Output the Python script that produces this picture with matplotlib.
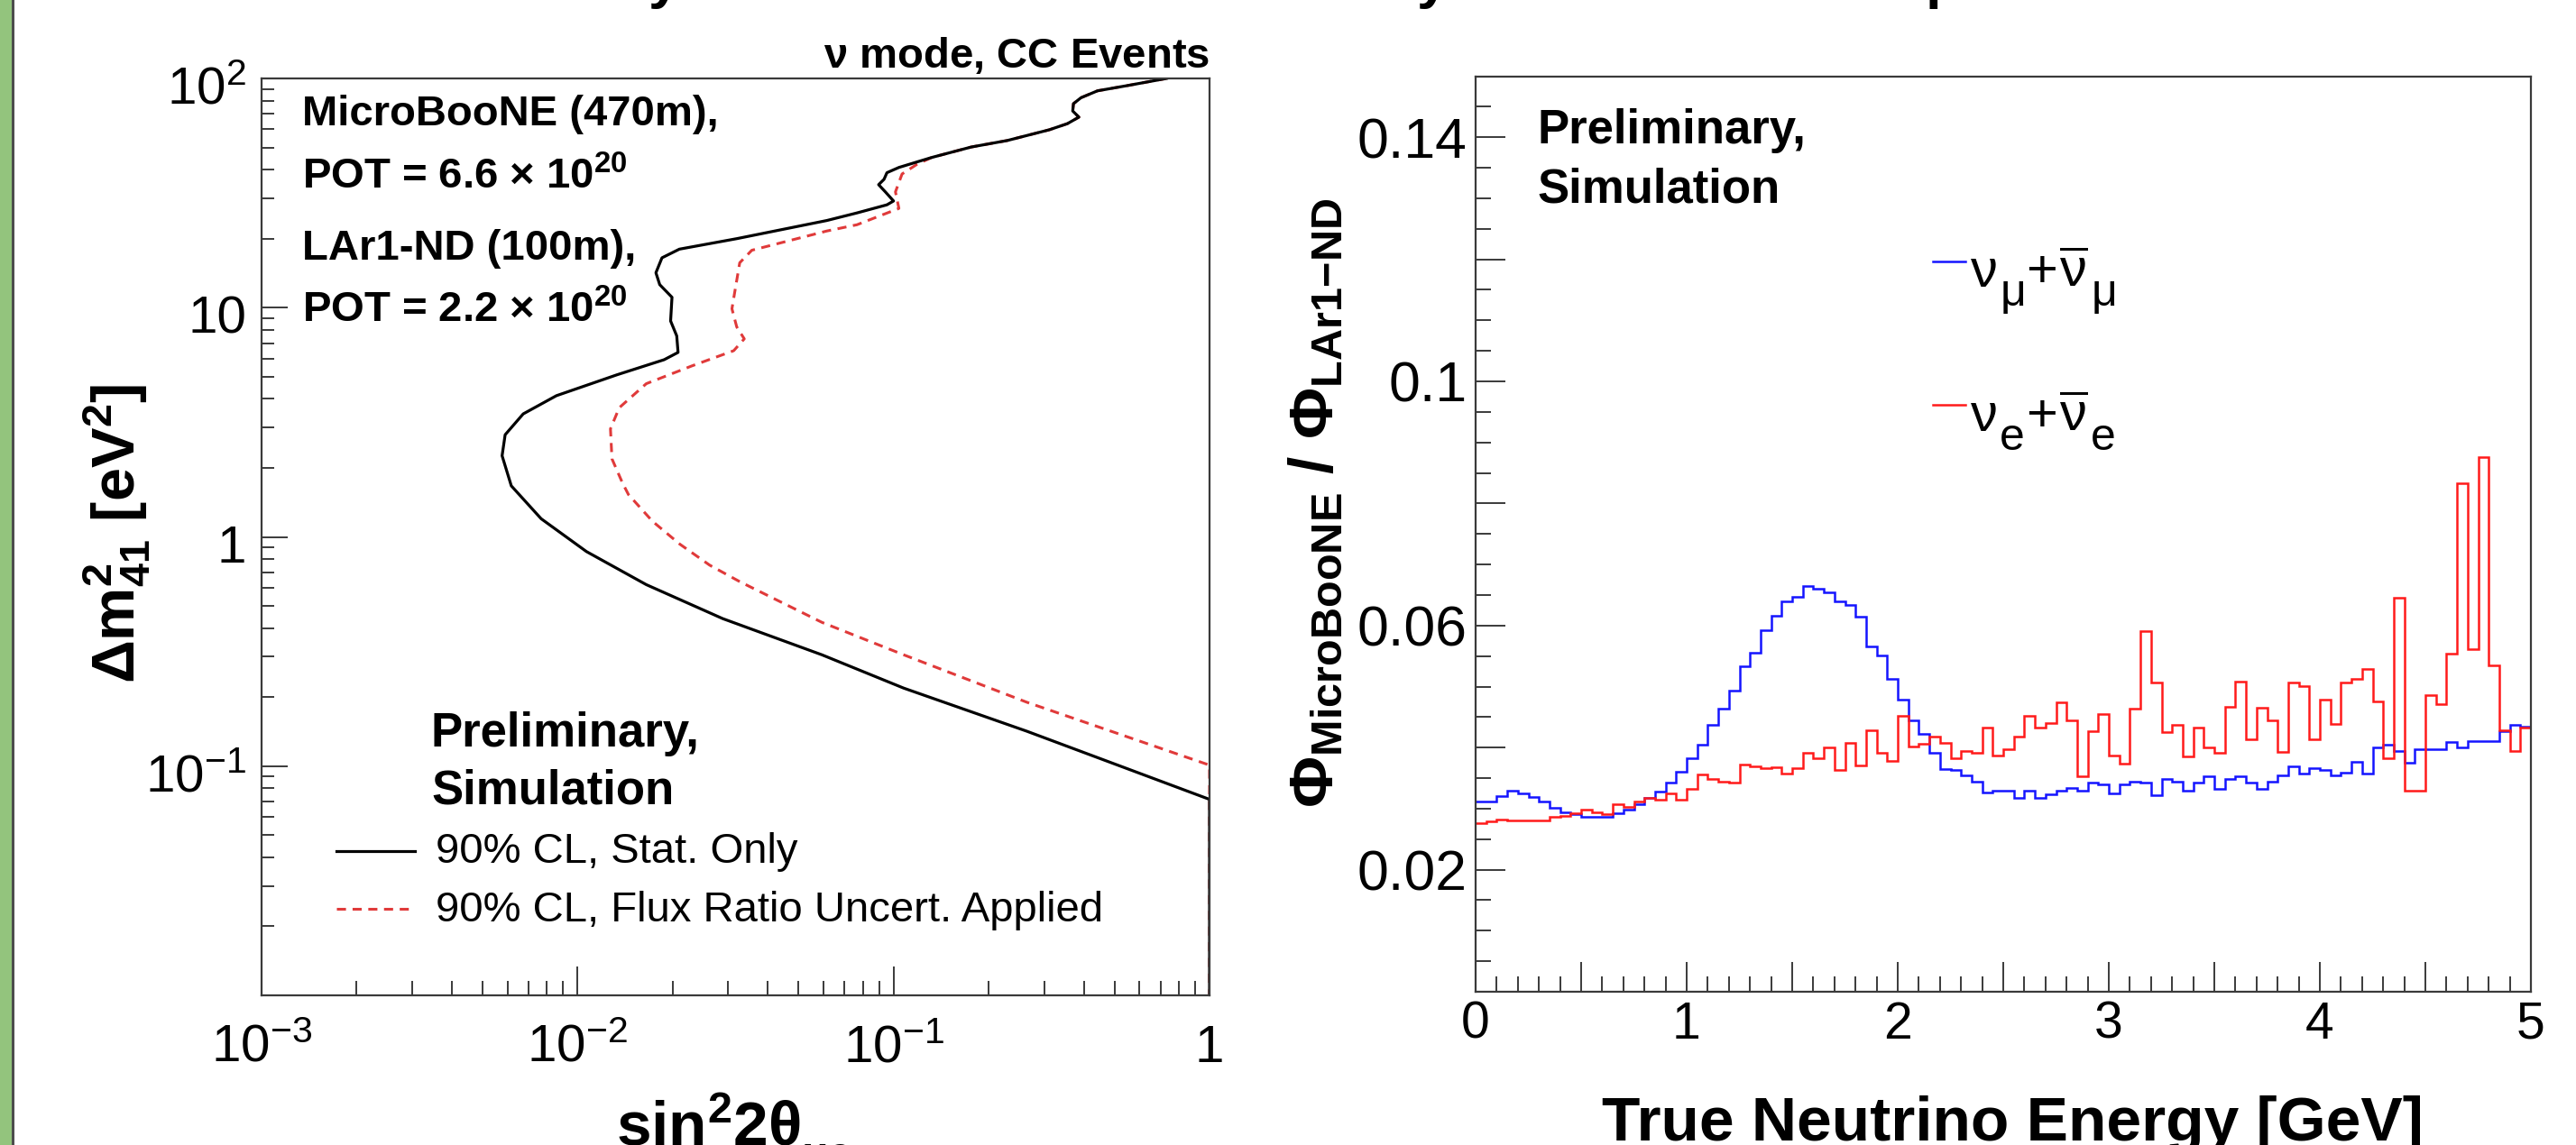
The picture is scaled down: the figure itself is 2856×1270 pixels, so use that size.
import numpy as np
import matplotlib
matplotlib.use("Agg")
import matplotlib.pyplot as plt
from matplotlib.lines import Line2D
from matplotlib.patches import Rectangle
from matplotlib.ticker import (FixedLocator, FixedFormatter, MultipleLocator,
                               LogLocator, FuncFormatter)
from matplotlib import transforms

plt.rcParams.update({
    "font.family": ["Liberation Sans", "DejaVu Sans"],
    "mathtext.fontset": "custom",
    "mathtext.rm": "Liberation Sans",
    "mathtext.it": "Liberation Sans:italic",
    "mathtext.bf": "Liberation Sans:bold",
    "mathtext.sf": "Liberation Sans",
    "mathtext.default": "regular",
})

# ---------------------------------------------------------------------------
# 90% CL sensitivity contours (sin^2 2theta, Delta m^2_41 [eV^2])
# ---------------------------------------------------------------------------
stat_sin2 = [0.731, 0.550, 0.442, 0.392, 0.371, 0.369, 0.386, 0.355, 0.311,
             0.229, 0.176, 0.132, 0.104, 0.0953, 0.0933, 0.0897, 0.0942,
             0.100, 0.0953, 0.0766, 0.0615, 0.0319, 0.0210, 0.0185, 0.0177,
             0.0182, 0.0199, 0.0197, 0.0206, 0.0208, 0.0188, 0.0133, 0.00857,
             0.00673, 0.00590, 0.00577, 0.00617, 0.00767, 0.01067, 0.0165,
             0.0256, 0.0288, 0.0593, 0.1076, 0.264, 1.0, 1.0]
stat_dm2 = [100.0, 93.1, 88.3, 82.4, 77.6, 72.1, 67.8, 63.5, 59.7,
            53.6, 50.2, 45.2, 40.9, 38.8, 36.3, 34.4, 32.0,
            29.2, 28.1, 25.9, 24.0, 20.0, 18.0, 16.5, 14.2,
            12.6, 11.1, 8.75, 7.53, 6.38, 5.93, 5.09, 4.13,
            3.44, 2.79, 2.26, 1.67, 1.20, 0.863, 0.619,
            0.473, 0.440, 0.306, 0.219, 0.142, 0.0716, 0.01]

flux_sin2 = [0.731, 0.550, 0.442, 0.392, 0.371, 0.369, 0.386, 0.355, 0.311,
             0.229, 0.176, 0.132, 0.1186, 0.1064, 0.1014, 0.1040, 0.0766,
             0.0615, 0.0356, 0.0326, 0.0316, 0.0308, 0.0319, 0.0337, 0.0312,
             0.0230, 0.0165, 0.01355, 0.01271, 0.01285, 0.01387, 0.01449,
             0.01726, 0.02104, 0.02618, 0.0326, 0.0593, 0.1076, 0.264,
             1.0, 1.0]
flux_dm2 = [100.0, 93.1, 88.3, 82.4, 77.6, 72.1, 67.8, 63.5, 59.7,
            53.6, 50.2, 45.2, 42.2, 38.3, 32.0, 27.1, 23.0,
            21.6, 17.8, 15.7, 12.2, 9.89, 8.24, 7.31, 6.49,
            5.57, 4.66, 3.66, 2.96, 2.19, 1.72, 1.53,
            1.17, 0.931, 0.753, 0.638, 0.424, 0.306, 0.190,
            0.101, 0.01]

sens_xticks = [1e-3, 1e-2, 1e-1, 1.0]
sens_xticklabels = [r"$10^{-3}$", r"$10^{-2}$", r"$10^{-1}$", "1"]
sens_yticks = [1e-1, 1.0, 10.0, 100.0]
sens_yticklabels = [r"$10^{-1}$", "1", "10", r"$10^{2}$"]

# ---------------------------------------------------------------------------
# Flux ratio MicroBooNE / LAr1-ND in 50 MeV bins of true neutrino energy
# ---------------------------------------------------------------------------
energy_edges = np.linspace(0.0, 5.0, 101)

numu_ratio = [
    0.0312, 0.0312, 0.0320, 0.0329, 0.0325, 0.0319, 0.0311, 0.0302, 0.0294, 0.0291,
    0.0287, 0.0286, 0.0287, 0.0292, 0.0299, 0.0307, 0.0317, 0.0328, 0.0342, 0.0360,
    0.0383, 0.0405, 0.0437, 0.0464, 0.0494, 0.0533, 0.0555, 0.0593, 0.0616, 0.0639,
    0.0647, 0.0665, 0.0660, 0.0655, 0.0639, 0.0634, 0.0614, 0.0566, 0.0551, 0.0512,
    0.0479, 0.0444, 0.0422, 0.0392, 0.0365, 0.0363, 0.0354, 0.0344, 0.0327, 0.0329,
    0.0329, 0.0318, 0.0329, 0.0318, 0.0324, 0.0329, 0.0334, 0.0329, 0.0343, 0.0339,
    0.0325, 0.0340, 0.0344, 0.0342, 0.0322, 0.0348, 0.0344, 0.0329, 0.0343, 0.0353,
    0.0333, 0.0349, 0.0353, 0.0342, 0.0333, 0.0344, 0.0355, 0.0370, 0.0357, 0.0367,
    0.0363, 0.0354, 0.0359, 0.0376, 0.0358, 0.0400, 0.0404, 0.0395, 0.0375, 0.0398,
    0.0397, 0.0398, 0.0409, 0.0400, 0.0411, 0.0411, 0.0411, 0.0427, 0.0437, 0.0434,
]
nue_ratio = [
    0.0276, 0.0279, 0.0282, 0.0280, 0.0280, 0.0280, 0.0280, 0.0287, 0.0288, 0.0292,
    0.0298, 0.0294, 0.0291, 0.0307, 0.0303, 0.0311, 0.0318, 0.0314, 0.0325, 0.0314,
    0.0333, 0.0356, 0.0349, 0.0344, 0.0342, 0.0372, 0.0370, 0.0367, 0.0368, 0.0358,
    0.0367, 0.0391, 0.0382, 0.0400, 0.0363, 0.0407, 0.0371, 0.0429, 0.0391, 0.0378,
    0.0452, 0.0402, 0.0406, 0.0418, 0.0408, 0.0383, 0.0395, 0.0391, 0.0433, 0.0387,
    0.0398, 0.0418, 0.0452, 0.0433, 0.0440, 0.0474, 0.0444, 0.0353, 0.0427, 0.0455,
    0.0387, 0.0373, 0.0464, 0.0591, 0.0507, 0.0426, 0.0437, 0.0385, 0.0433, 0.0400,
    0.0391, 0.0467, 0.0508, 0.0413, 0.0465, 0.0444, 0.0393, 0.0506, 0.0501, 0.0414,
    0.0479, 0.0439, 0.0506, 0.0513, 0.0529, 0.0475, 0.0383, 0.0646, 0.0329, 0.0330,
    0.0486, 0.0471, 0.0554, 0.0833, 0.0562, 0.0876, 0.0534, 0.0428, 0.0395, 0.0433,
]

ratio_yticks = [0.02, 0.04, 0.06, 0.08, 0.10, 0.12, 0.14]
ratio_yticklabels = ["0.02", "", "0.06", "", "0.1", "", "0.14"]

# ---------------------------------------------------------------------------
W, H = 2856, 1270
fig = plt.figure(figsize=(W / 100, H / 100), dpi=100)
fig.patch.set_facecolor("white")
renderer = fig.canvas.get_renderer()


def fx(px):
    return px / W


def fy(py):
    return 1.0 - py / H


def text_run(x_px, base_px, pieces, **kw):
    """Lay out text pieces one after another; each piece is
    (string, fontsize, downward shift in px, gap after in px)."""
    x = x_px
    for s, size, drop, gap in pieces:
        t = fig.text(fx(x), fy(base_px + drop), s, fontsize=size,
                     ha="left", va="baseline", **kw)
        x = t.get_window_extent(renderer).x1 + gap


FRAME = "#3a3a3a"
RED_CURVE = "#e03a3a"
BLUE_HIST = "#1414ff"
RED_HIST = "#ff1a1a"

# slide margin on the left
fig.add_artist(Rectangle((0, 0), fx(13), 1, transform=fig.transFigure,
                         facecolor="#93c47d", edgecolor="none", zorder=0))
fig.add_artist(Rectangle((fx(13), 0), fx(3), 1, transform=fig.transFigure,
                         facecolor="#4d4d4d", edgecolor="none", zorder=0))

# tail of the slide heading, clipped by the top edge
for ch, xpx in (("y", 736), ("y", 1588), ("p", 2154)):
    fig.text(fx(xpx), fy(-3.5), ch, fontsize=46, fontweight="bold",
             ha="center", va="baseline")

axL = fig.add_axes([fx(290), fy(1104), fx(1341) - fx(290), fy(87) - fy(1104)])
axR = fig.add_axes([fx(1636), fy(1100), fx(2806) - fx(1636), fy(84.5) - fy(1100)])
for ax in (axL, axR):
    for sp in ax.spines.values():
        sp.set_linewidth(1.6)
        sp.set_color(FRAME)

# ------------------------------ left panel ---------------------------------
axL.set_xscale("log")
axL.set_yscale("log")
axL.set_xlim(1e-3, 1.0)
axL.set_ylim(1e-2, 1e2)
axL.plot(flux_sin2, flux_dm2, color=RED_CURVE, lw=2.2, dashes=(3.3, 2.4),
         dash_capstyle="butt", dash_joinstyle="round")
axL.plot(stat_sin2, stat_dm2, color="black", lw=2.3, solid_joinstyle="round")

axL.xaxis.set_major_locator(LogLocator(base=10, numticks=10))
axL.xaxis.set_minor_locator(LogLocator(base=10, subs=np.arange(2, 10), numticks=20))
axL.yaxis.set_major_locator(LogLocator(base=10, numticks=10))
axL.yaxis.set_minor_locator(LogLocator(base=10, subs=np.arange(2, 10), numticks=20))
axL.tick_params(which="both", direction="in", top=False, right=False,
                labelbottom=False, labelleft=False, color=FRAME, width=1.4)
axL.tick_params(axis="x", which="major", length=23)
axL.tick_params(axis="x", which="minor", length=11.5)
axL.tick_params(axis="y", which="major", length=21)
axL.tick_params(axis="y", which="minor", length=10)

xlab_tr = transforms.offset_copy(axL.get_xaxis_transform(), fig=fig,
                                 x=0, y=-74, units="dots")
for v, s in zip(sens_xticks, sens_xticklabels):
    axL.text(v, 0, s, transform=xlab_tr, ha="center", va="baseline",
             fontsize=42, clip_on=False)
ylab_tr = transforms.offset_copy(axL.get_yaxis_transform(), fig=fig,
                                 x=-17, y=-28, units="dots")
for v, s in zip(sens_yticks, sens_yticklabels):
    axL.text(0, v, s, transform=ylab_tr, ha="right", va="baseline",
             fontsize=42, clip_on=False)

fig.text(fx(1341), fy(75), r"$\nu$ mode, CC Events", ha="right", va="baseline",
         fontsize=34, fontweight="bold")
info_lines = ["MicroBooNE (470m),", r"POT = 6.6 $\times$ 10$^{20}$",
              "LAr1-ND (100m),", r"POT = 2.2 $\times$ 10$^{20}$"]
for line, base in zip(info_lines, (139, 209, 288, 357)):
    fig.text(fx(335), fy(base), line, ha="left", va="baseline",
             fontsize=34, fontweight="bold")
fig.text(fx(478), fy(828), "Preliminary,", ha="left", va="baseline",
         fontsize=38, fontweight="bold")
fig.text(fx(478), fy(891), "Simulation", ha="left", va="baseline",
         fontsize=38, fontweight="bold")

fig.add_artist(Line2D([fx(373), fx(460)], [fy(944), fy(944)],
                      transform=fig.transFigure, color="black", lw=2.3))
fig.add_artist(Line2D([fx(373), fx(460)], [fy(1008), fy(1008)],
                      transform=fig.transFigure, color=RED_CURVE, lw=2.2,
                      dashes=(3.3, 2.4)))
fig.text(fx(483), fy(957), "90% CL, Stat. Only", ha="left", va="baseline",
         fontsize=34)
fig.text(fx(483), fy(1022), "90% CL, Flux Ratio Uncert. Applied",
         ha="left", va="baseline", fontsize=34)

fig.text(fx(130), fy(592), r"Δm$^{\mathbf{2}}_{\mathbf{41}}$ [eV$^{\mathbf{2}}$]",
         rotation=90, ha="center", va="center", fontsize=48, fontweight="bold")
text_run(683, 1271, [(r"sin$^{\mathbf{2}}$2θ", 50, 0, 1), ("μe", 35, 24, 0)],
         fontweight="bold")

# ------------------------------ right panel --------------------------------
axR.set_xlim(0, 5)
axR.set_ylim(0, 0.15)
axR.stairs(numu_ratio, energy_edges, baseline=None, color=BLUE_HIST, lw=1.8)
axR.stairs(nue_ratio, energy_edges, baseline=None, color=RED_HIST, lw=1.8)

axR.xaxis.set_major_locator(MultipleLocator(0.5))
axR.xaxis.set_minor_locator(MultipleLocator(0.1))
axR.xaxis.set_major_formatter(FuncFormatter(
    lambda v, p: f"{v:g}" if abs(v - round(v)) < 1e-9 else ""))
axR.yaxis.set_major_locator(FixedLocator(ratio_yticks))
axR.yaxis.set_major_formatter(FixedFormatter(ratio_yticklabels))
axR.yaxis.set_minor_locator(MultipleLocator(0.005))
axR.tick_params(which="both", direction="in", top=False, right=False,
                color=FRAME, width=1.4)
axR.tick_params(which="major", length=24)
axR.tick_params(which="minor", length=12)
axR.tick_params(axis="x", which="major", labelsize=41, pad=7)
axR.tick_params(axis="y", which="major", labelsize=45, pad=7)

fig.text(fx(1704), fy(159), "Preliminary,", ha="left", va="baseline",
         fontsize=38, fontweight="bold")
fig.text(fx(1704), fy(224.5), "Simulation", ha="left", va="baseline",
         fontsize=38, fontweight="bold")

fig.add_artist(Line2D([fx(2143), fx(2179)], [fy(290), fy(290)],
                      transform=fig.transFigure, color=BLUE_HIST, lw=1.8))
fig.add_artist(Line2D([fx(2143), fx(2179)], [fy(449), fy(449)],
                      transform=fig.transFigure, color=RED_HIST, lw=1.8))
text_run(2184, 318, [(r"$\nu$", 43, 0, 3), (r"$\mu$", 36, 21, 2),
                     ("+", 43, 0, 2), (r"$\overline{\nu}$", 43, 0, 3),
                     (r"$\mu$", 36, 21, 0)])
text_run(2184, 478, [(r"$\nu$", 43, 0, 3), ("e", 36, 21, 2),
                     ("+", 43, 0, 2), (r"$\overline{\nu}$", 43, 0, 3),
                     ("e", 36, 21, 0)])

fig.text(fx(1460), fy(558),
         r"$\Phi_{\mathbf{MicroBooNE}}$ / $\Phi_{\mathbf{LAr1{-}ND}}$",
         rotation=90, ha="center", va="center", fontsize=50, fontweight="bold")
fig.text(fx(2231), fy(1265), "True Neutrino Energy [GeV]",
         ha="center", va="baseline", fontsize=50, fontweight="bold")

fig.savefig("out.png", dpi=100)
